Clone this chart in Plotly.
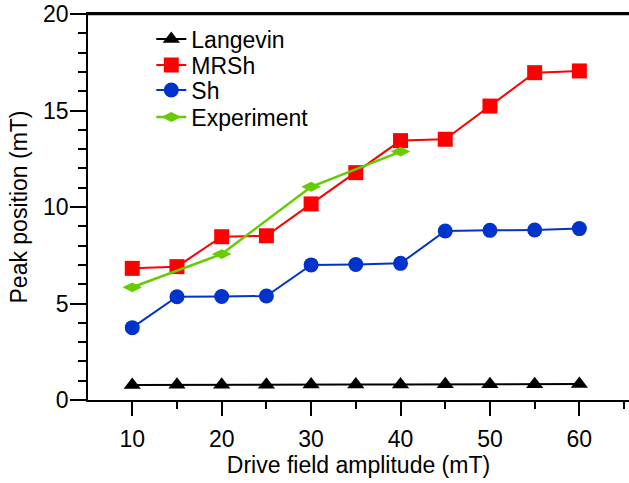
import plotly.graph_objects as go

field = [10, 15, 20, 25, 30, 35, 40, 45, 50, 55, 60]
langevin = [0.78, 0.79, 0.79, 0.79, 0.80, 0.80, 0.80, 0.81, 0.82, 0.82, 0.83]
mrsh = [6.82, 6.91, 8.46, 8.51, 10.16, 11.78, 13.44, 13.51, 15.23, 16.96, 17.05]
sh = [3.75, 5.35, 5.36, 5.39, 7.00, 7.02, 7.08, 8.76, 8.79, 8.81, 8.88]
exp_field = [10, 20, 30, 40]
experiment = [5.84, 7.56, 11.05, 12.87]

FONT = "Liberation Sans, Arial, sans-serif"
FS = 23

fig = go.Figure()
fig.add_trace(go.Scatter(x=field, y=langevin, name="Langevin", mode="lines+markers",
                         line=dict(color="black", width=2), legend="legend",
                         marker=dict(symbol="triangle-up", size=15, color="black")))
fig.add_trace(go.Scatter(x=field, y=mrsh, name="MRSh", mode="lines+markers",
                         line=dict(color="#FF0000", width=2), legend="legend2",
                         marker=dict(symbol="square", size=15, color="#FF0000")))
fig.add_trace(go.Scatter(x=field, y=sh, name="Sh", mode="lines+markers",
                         line=dict(color="#0033CC", width=2), legend="legend3",
                         marker=dict(symbol="circle", size=15, color="#0033CC")))
fig.add_trace(go.Scatter(x=exp_field, y=experiment, name="Experiment", mode="lines+markers",
                         line=dict(color="#66CC00", width=2.5), legend="legend4",
                         marker=dict(symbol="diamond-wide", size=14, color="#66CC00")))

leg_common = dict(x=0.117, xanchor="left", yanchor="middle",
                  bgcolor="rgba(0,0,0,0)", font=dict(size=FS, family=FONT))
fig.update_layout(
    width=629, height=483,
    margin=dict(l=88, r=0, t=14, b=83),
    paper_bgcolor="white", plot_bgcolor="white",
    font=dict(family=FONT, size=FS, color="black"),
    showlegend=True,
    legend=dict(y=0.935, **leg_common),
    legend2=dict(y=0.868, **leg_common),
    legend3=dict(y=0.803, **leg_common),
    legend4=dict(y=0.733, **leg_common),
    shapes=[
        dict(type="line", xref="paper", yref="paper", x0=0, y0=1, x1=1, y1=1,
             line=dict(color="black", width=2.5), layer="above"),
    ],
)
fig.update_xaxes(
    range=[5.05, 65.55], tickmode="array", tickvals=[10, 20, 30, 40, 50, 60],
    ticks="outside", ticklen=14, tickwidth=1.5, tickcolor="black",
    showline=True, linecolor="black", linewidth=1.5, mirror=True,
    showgrid=False, zeroline=False, automargin=False, ticklabelstandoff=4,
    ticklabeloverflow="allow",
    minor=dict(dtick=5, tick0=5, ticks="outside", ticklen=7, tickwidth=1.5, tickcolor="black", showgrid=False),
    title=dict(text="Drive field amplitude (mT)", font=dict(size=FS), standoff=4),
    tickfont=dict(size=FS),
)
fig.update_yaxes(
    range=[0, 20], tickmode="array", tickvals=[0, 5, 10, 15, 20],
    ticks="outside", ticklen=16, tickwidth=1.5, tickcolor="black",
    showline=True, linecolor="black", linewidth=1.5, mirror=False,
    showgrid=False, zeroline=False, automargin=False, ticklabelstandoff=-3,
    ticklabeloverflow="allow",
    minor=dict(dtick=1, tick0=0, ticks="outside", ticklen=8, tickwidth=1.5, tickcolor="black", showgrid=False),
    title=dict(text="Peak position (mT)", font=dict(size=FS), standoff=9),
    tickfont=dict(size=FS),
)

fig.write_html("out.html", config={"displayModeBar": False},
               post_script="document.body.style.margin='0';")
